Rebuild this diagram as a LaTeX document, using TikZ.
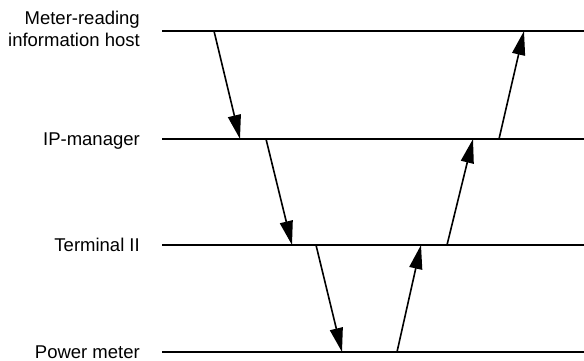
\documentclass[tikz,border=0pt]{standalone}
\usepackage{fontspec}
\setmainfont{Liberation Sans}
\usetikzlibrary{arrows.meta}
\begin{document}
\begin{tikzpicture}[x=1pt,y=-1pt,
  lifeline/.style={line width=1.8pt},
  msg/.style={line width=1.6pt,-{Triangle[length=24pt,width=13pt]}},
  lbl/.style={anchor=base east,inner sep=0pt,font=\fontsize{18.5}{21.5}\selectfont,align=right}]
\useasboundingbox (0,0) rectangle (584,361);
% lifelines
\coordinate (h0) at (162,31);  \coordinate (h1) at (584,31);
\coordinate (i0) at (162,139); \coordinate (i1) at (584,139);
\coordinate (t0) at (162,245); \coordinate (t1) at (584,245);
\coordinate (p0) at (162,352); \coordinate (p1) at (584,352);
\draw[lifeline] (h0) -- (h1);
\draw[lifeline] (i0) -- (i1);
\draw[lifeline] (t0) -- (t1);
\draw[lifeline] (p0) -- (p1);
% labels
\node[lbl] (lh1) at (140,25) {Meter-reading};
\node[lbl] (lh2) at (140,46.7) {information host};
\node[lbl] (li) at (140,145.6) {IP-manager};
\node[lbl] (lt) at (140,251.6) {Terminal II};
\node[lbl] (lp) at (140,358.6) {Power meter};
% message points
\coordinate (a1) at (214,31);  \coordinate (b1) at (240,139);
\coordinate (a2) at (266,139); \coordinate (b2) at (292,245);
\coordinate (a3) at (316,245); \coordinate (b3) at (342,352);
\coordinate (a4) at (397,352); \coordinate (b4) at (421,245);
\coordinate (a5) at (447,245); \coordinate (b5) at (473,139);
\coordinate (a6) at (499,139); \coordinate (b6) at (524,31);
\draw[msg] (a1) -- (b1);
\draw[msg] (a2) -- (b2);
\draw[msg] (a3) -- (b3);
\draw[msg] (a4) -- (b4);
\draw[msg] (a5) -- (b5);
\draw[msg] (a6) -- (b6);
\end{tikzpicture}
\end{document}
